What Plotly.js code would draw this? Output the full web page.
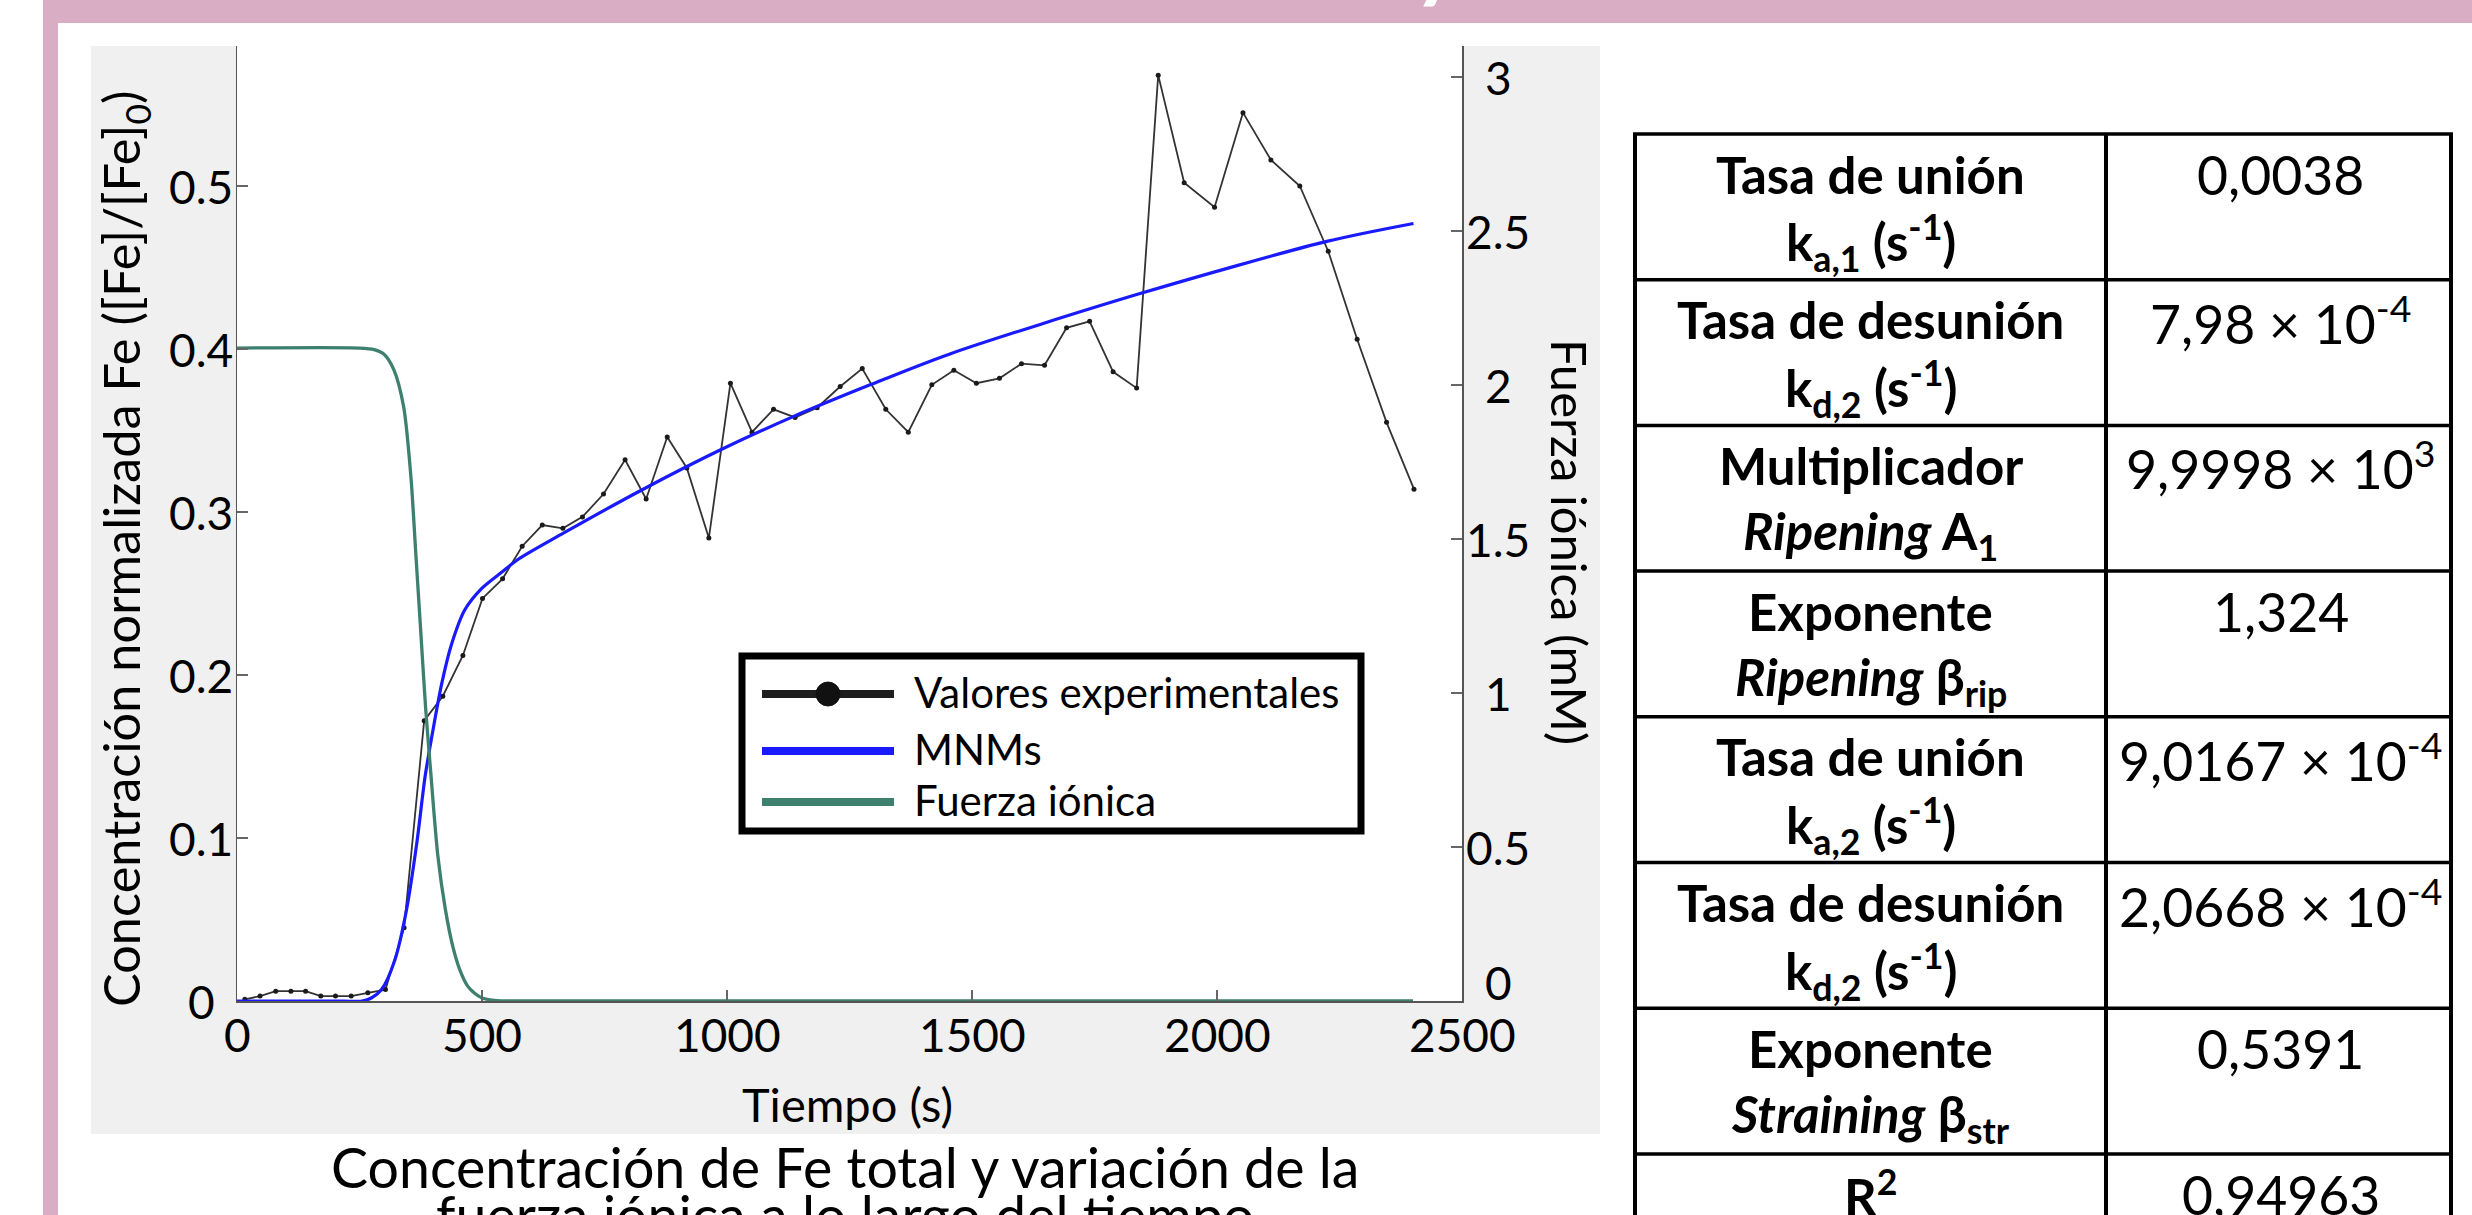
<!DOCTYPE html>
<html><head><meta charset="utf-8">
<script src="https://cdn.plot.ly/plotly-3.0.1.min.js"></script>
<style>html,body{margin:0;padding:0;background:#fff;overflow:hidden}</style>
</head><body><div id="chart" style="width:2472px;height:1215px"></div>
<script>
// ---------------- data ----------------
const expTime = [16, 47, 79, 110, 140, 171, 201, 233, 267, 303, 341, 382, 420, 461, 501, 542, 582, 623, 665, 705, 748, 792, 835, 878, 918, 963, 1007, 1051, 1095, 1139, 1184, 1231, 1276, 1324, 1370, 1418, 1463, 1509, 1556, 1601, 1648, 1693, 1740, 1788, 1836, 1880, 1933, 1995, 2053, 2110, 2169, 2227, 2286, 2346, 2402];
const expConc = [0.001, 0.003, 0.006, 0.006, 0.006, 0.003, 0.003, 0.003, 0.005, 0.007, 0.045, 0.172, 0.187, 0.212, 0.247, 0.259, 0.279, 0.292, 0.290, 0.297, 0.311, 0.332, 0.308, 0.346, 0.327, 0.284, 0.379, 0.349, 0.363, 0.358, 0.364, 0.377, 0.388, 0.363, 0.349, 0.378, 0.387, 0.379, 0.382, 0.391, 0.390, 0.413, 0.417, 0.386, 0.376, 0.568, 0.502, 0.487, 0.545, 0.516, 0.500, 0.460, 0.406, 0.355, 0.314];
const mnmTime = [0, 100, 200, 255, 275, 295, 322, 346, 367, 384, 401, 418, 438, 465, 499, 540, 574, 666, 826, 986, 1135, 1292, 1455, 1843, 2224, 2401];
const mnmConc = [0, 0, 0, 0, 0.002, 0.007, 0.025, 0.056, 0.097, 0.138, 0.168, 0.195, 0.219, 0.240, 0.253, 0.263, 0.271, 0.287, 0.3135, 0.338, 0.3585, 0.378, 0.397, 0.434, 0.466, 0.477];
const ionTime = [0, 250, 280, 300, 320, 340, 355, 365, 375, 385, 395, 410, 425, 440, 455, 470, 485, 500, 520, 550, 2400];
const ionStrength = [2.12, 2.12, 2.115, 2.10, 2.05, 1.93, 1.70, 1.45, 1.20, 0.95, 0.75, 0.47, 0.30, 0.18, 0.10, 0.05, 0.025, 0.01, 0.003, 0, 0];

const xTickVals = [0, 500, 1000, 1500, 2000, 2500];
const xTickText = ['0', '500', '1000', '1500', '2000', '2500'];
const yTickVals = [0, 0.1, 0.2, 0.3, 0.4, 0.5];
const yTickText = ['0', '0.1', '0.2', '0.3', '0.4', '0.5'];
const y2TickVals = [0, 0.5, 1, 1.5, 2, 2.5, 3];
const y2TickText = ['0', '0.5', '1', '1.5', '2', '2.5', '3'];

const legendNames = ['Valores experimentales', 'MNMs', 'Fuerza iónica'];
const xTitle = 'Tiempo (s)';
const yTitle = 'Concentración normalizada Fe ([Fe]/[Fe]<sub>0</sub>)';
const y2Title = 'Fuerza iónica (mM)';
const captionLines = ['Concentración de Fe total y variación de la', 'fuerza iónica a lo largo del tiempo'];

const paramNames = ['Tasa de unión', 'Tasa de desunión', 'Multiplicador', 'Exponente', 'Tasa de unión', 'Tasa de desunión', 'Exponente', 'R<sup>2</sup>'];
const paramUnits = ['k<sub>a,1</sub> (s<sup>-1</sup>)', 'k<sub>d,2</sub> (s<sup>-1</sup>)', '<i>Ripening</i> A<sub>1</sub>', '<i>Ripening</i> β<sub>rip</sub>', 'k<sub>a,2</sub> (s<sup>-1</sup>)', 'k<sub>d,2</sub> (s<sup>-1</sup>)', '<i>Straining</i> β<sub>str</sub>', ''];
const paramValues = ['0,0038', '7,98 × 10<sup>-4</sup>', '9,9998 × 10<sup>3</sup>', '1,324', '9,0167 × 10<sup>-4</sup>', '2,0668 × 10<sup>-4</sup>', '0,5391', '0,94963'];

// ---------------- geometry helpers ----------------
const W = 2472, H = 1215;
const PL = 237, PR = 1462, PT = 46, PB = 1001;
const px = x => (x - PL) / (PR - PL);
const py = y => (PB - y) / (PB - PT);
const FONT = 'Lato, "Open Sans", sans-serif';

const shapes = [];
const annotations = [];
function rect(x0, y0, x1, y1, fill, line, lw) {
  shapes.push({type: 'rect', xref: 'paper', yref: 'paper', x0: px(x0), x1: px(x1), y0: py(y1), y1: py(y0),
    fillcolor: fill, line: {color: line || fill, width: lw || 0}, layer: 'below'});
}
function seg(x0, y0, x1, y1, color, w, layer) {
  shapes.push({type: 'line', xref: 'paper', yref: 'paper', x0: px(x0), x1: px(x1), y0: py(y0), y1: py(y1),
    line: {color: color, width: w}, layer: layer || 'above'});
}
function label(text, x, y, size, opts) {
  annotations.push(Object.assign({text: text, xref: 'paper', yref: 'paper', x: px(x), y: py(y),
    showarrow: false, xanchor: 'center', yanchor: 'middle',
    font: {family: FONT, size: size, color: '#000'}}, opts || {}));
}

// poster frame
rect(43, 0, W, 23, '#d9aec4');
rect(43, 0, 58, H, '#d9aec4');
// figure background
rect(91, 46, 1600, 1134, '#f0f0f0');
rect(PL, PT, PR, PB, '#ffffff');

// cut-off poster title descender
label('<b>y</b>', 1437, 12, 90, {yanchor: 'bottom', font: {family: FONT, size: 90, color: '#ffffff'}});

// tick labels (through axis scales)
xTickVals.forEach((v, i) => annotations.push({text: xTickText[i], xref: 'x', yref: 'paper', x: v, y: py(1034),
  showarrow: false, xanchor: 'center', yanchor: 'middle', font: {family: FONT, size: 46, color: '#000'}}));
yTickVals.forEach((v, i) => annotations.push({text: yTickText[i], xref: 'paper', yref: 'y', x: px(201), y: v,
  showarrow: false, xanchor: 'center', yanchor: 'middle', font: {family: FONT, size: 46, color: '#000'}}));
y2TickVals.forEach((v, i) => annotations.push({text: y2TickText[i], xref: 'paper', yref: 'y2', x: px(1498), y: v,
  yshift: v === 0 ? 19 : 0,
  showarrow: false, xanchor: 'center', yanchor: 'middle', font: {family: FONT, size: 46, color: '#000'}}));

// axis titles
label(xTitle, 847, 1104, 47);
label(yTitle, 124, 549, 50.5, {textangle: -90});
label(y2Title, 1570, 542, 49, {textangle: 90});

// caption
label(captionLines[0], 845, 1166, 55.5);
label(captionLines[1], 845, 1214, 55.5);

// legend box
rect(742, 656, 1361, 831, '#ffffff', '#000000', 7);
shapes[shapes.length - 1].layer = 'above';
const legColors = ['#1e1e1e', '#1a1aff', '#3d806e'];
const legY = [694, 751, 802];
legY.forEach((y, i) => {
  seg(762, y, 894, y, legColors[i], 8);
  label(legendNames[i], 912, y - 2, 42, {xanchor: 'left'});
});
shapes.push({type: 'circle', xref: 'paper', yref: 'paper', x0: px(816), x1: px(840), y0: py(706), y1: py(682),
  fillcolor: '#111', line: {color: '#111', width: 1}, layer: 'above'});

// table
const tX = [1635, 2106, 2451];
const rowTop = 134, rowH = 145.7;
const nRows = paramNames.length;
for (let r = 0; r < nRows; r++) {
  const top = rowTop + r * rowH;
  seg(tX[0] - 2, top, tX[2] + 2, top, '#000', 3.5);
  const c1 = (tX[0] + tX[1]) / 2, c2 = (tX[1] + tX[2]) / 2;
  label('<b>' + paramNames[r] + '</b>', c1, top + 40, 51);
  if (paramUnits[r]) label('<b>' + paramUnits[r] + '</b>', c1, top + 109, 51);
  label(paramValues[r], c2 + 2, top + 40, 53.5);
}
tX.forEach(x => seg(x, rowTop, x, H + 20, '#000', 4));

// ---------------- traces ----------------
const traces = [
  {x: expTime, y: expConc, type: 'scatter', mode: 'lines+markers', name: legendNames[0], xaxis: 'x', yaxis: 'y',
   line: {color: '#333333', width: 1.8}, marker: {color: '#1a1a1a', size: 5}, showlegend: false},
  {x: mnmTime, y: mnmConc, type: 'scatter', mode: 'lines', name: legendNames[1], xaxis: 'x', yaxis: 'y',
   line: {color: '#1a1aff', width: 3.2, shape: 'spline', smoothing: 0.8}, showlegend: false},
  {x: ionTime, y: ionStrength, type: 'scatter', mode: 'lines', name: legendNames[2], xaxis: 'x', yaxis: 'y2',
   line: {color: '#3d806e', width: 3.3, shape: 'spline', smoothing: 0.8}, showlegend: false}
];

const axisCommon = {showgrid: false, zeroline: false, showline: true, linecolor: '#555', linewidth: 1.5,
  ticks: 'inside', ticklen: 11, tickwidth: 1.5, tickcolor: '#666', showticklabels: false, fixedrange: true};

const layout = {
  width: W, height: H, autosize: false,
  margin: {l: PL, r: W - PR, t: PT, b: H - PB, pad: 0},
  paper_bgcolor: '#ffffff', plot_bgcolor: 'rgba(0,0,0,0)',
  showlegend: false,
  xaxis: Object.assign({}, axisCommon, {range: [0, 2500], tickvals: xTickVals}),
  yaxis: Object.assign({}, axisCommon, {range: [0, (PB - PT) / 1630], tickvals: yTickVals}),
  yaxis2: Object.assign({}, axisCommon, {range: [0, (PB - PT) / 308], tickvals: y2TickVals, overlaying: 'y', side: 'right'}),
  shapes: shapes,
  annotations: annotations
};

Plotly.newPlot('chart', traces, layout, {staticPlot: true, displayModeBar: false});
</script>
</body></html>
